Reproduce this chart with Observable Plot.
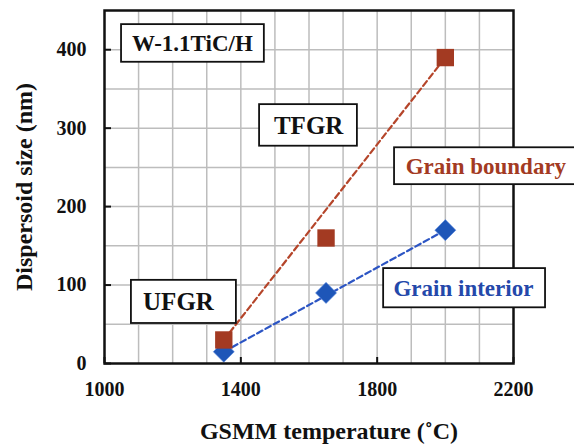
<!DOCTYPE html>
<html><head><meta charset="utf-8">
<script src="https://cdn.jsdelivr.net/npm/d3@7"></script>
<script src="https://cdn.jsdelivr.net/npm/@observablehq/plot@0.6"></script>
<style>body{margin:0;background:#fff;overflow:hidden}</style>
</head><body><div id="chart"></div>
<script>
// Data
const temperatures = [1350, 1650, 2000];
const boundarySize = [30, 160, 390];
const interiorSize = [15, 90, 170];

// Axes
const xTicks = [1000, 1400, 1800, 2200];
const yTicks = [0, 100, 200, 300, 400];
const xGrid = [1100, 1200, 1300, 1400, 1500, 1600, 1700, 1800, 1900, 2000, 2100];
const yGrid = [50, 100, 150, 200, 250, 300, 350, 400];
const xTitle = "GSMM temperature (˚C)";
const yTitle = "Dispersoid size (nm)";

// Annotation boxes
const boxLabels = ["W-1.1TiC/H", "TFGR", "UFGR", "Grain boundary", "Grain interior"];
const boxX1 = [1050, 1455, 1079, 1851, 1819];
const boxX2 = [1469, 1742, 1387, 2420, 2294];
const boxY1 = [384, 277, 51, 228, 71];
const boxY2 = [432, 330, 106, 275, 121];
const labelX = [1258, 1599, 1217, 2119, 2053];
const labelY = [408, 303, 78, 251, 96];
const labelColors = ["#111", "#111", "#111", "#a33a22", "#2448aa"];
const labelSizes = [23, 25, 25, 23, 23];

const rows = temperatures.map((t, i) => ({t, gb: boundarySize[i], gi: interiorSize[i]}));
const ends = [rows[0], rows[rows.length - 1]];
const boxes = boxLabels.map((label, i) => ({
  label, x1: boxX1[i], x2: boxX2[i], y1: boxY1[i], y2: boxY2[i],
  x: labelX[i], y: labelY[i], color: labelColors[i], size: labelSizes[i]
}));

const W = 574, H = 445, mL = 104, mR = 61, mT = 10, mB = 82;
const plotW = W - mL - mR, plotH = H - mT - mB;

const chart = Plot.plot({
  width: W, height: H,
  marginLeft: mL, marginRight: mR, marginTop: mT, marginBottom: mB,
  style: {fontFamily: "'Liberation Serif', 'Times New Roman', serif", fontWeight: "bold", fontSize: "20px", background: "#fff", color: "#111"},
  x: {domain: [1000, 2200]},
  y: {domain: [0, 450]},
  marks: [
    Plot.ruleX(xGrid, {x: d => d, stroke: "#bdbdbd", strokeWidth: 1.5}),
    Plot.ruleY(yGrid, {y: d => d, stroke: "#bdbdbd", strokeWidth: 1.5}),
    Plot.axisX(xTicks, {tickSize: 0, tickPadding: 18, fontSize: 20, label: null, tickFormat: d => String(d)}),
    Plot.axisY(yTicks, {tickSize: 0, tickPadding: 18, fontSize: 20, label: null, tickFormat: d => String(d)}),
    Plot.tickX(xTicks, {x: d => d, insetTop: plotH - 6, stroke: "#111", strokeWidth: 2}),
    Plot.tickY(yTicks, {y: d => d, insetRight: plotW - 7, stroke: "#111", strokeWidth: 2}),
    Plot.line(ends, {x: "t", y: "gb", stroke: "#b5452a", strokeWidth: 2.2, strokeDasharray: "6,3.5"}),
    Plot.line(ends, {x: "t", y: "gi", stroke: "#2c55c4", strokeWidth: 2.2, strokeDasharray: "6,3.5"}),
    Plot.dot(rows, {x: "t", y: "gi", symbol: "diamond2", r: 9.5, fill: "#1e56b8", stroke: "#5f8de0", strokeWidth: 0.6}),
    Plot.dot(rows, {x: "t", y: "gb", symbol: "square", r: 9.8, fill: "#a33a22"}),
    Plot.frame({stroke: "#111", strokeWidth: 2.5}),
    Plot.rect(boxes, {x1: "x1", x2: "x2", y1: "y1", y2: "y2", fill: "white", stroke: "#111", strokeWidth: 1.8}),
    Plot.text(boxes, {x: "x", y: "y", text: "label", fill: "color", fontSize: d => d.size, fontWeight: "bold", textAnchor: "middle", lineAnchor: "middle"}),
    Plot.text([xTitle], {text: d => d, frameAnchor: "bottom", dx: 20, dy: 68, fontSize: 24, textAnchor: "middle", lineAnchor: "middle"}),
    Plot.text([yTitle], {text: d => d, frameAnchor: "left", dx: -80, rotate: -90, fontSize: 24, textAnchor: "middle", lineAnchor: "middle"})
  ]
});
document.getElementById("chart").append(chart);
</script>
</body></html>
